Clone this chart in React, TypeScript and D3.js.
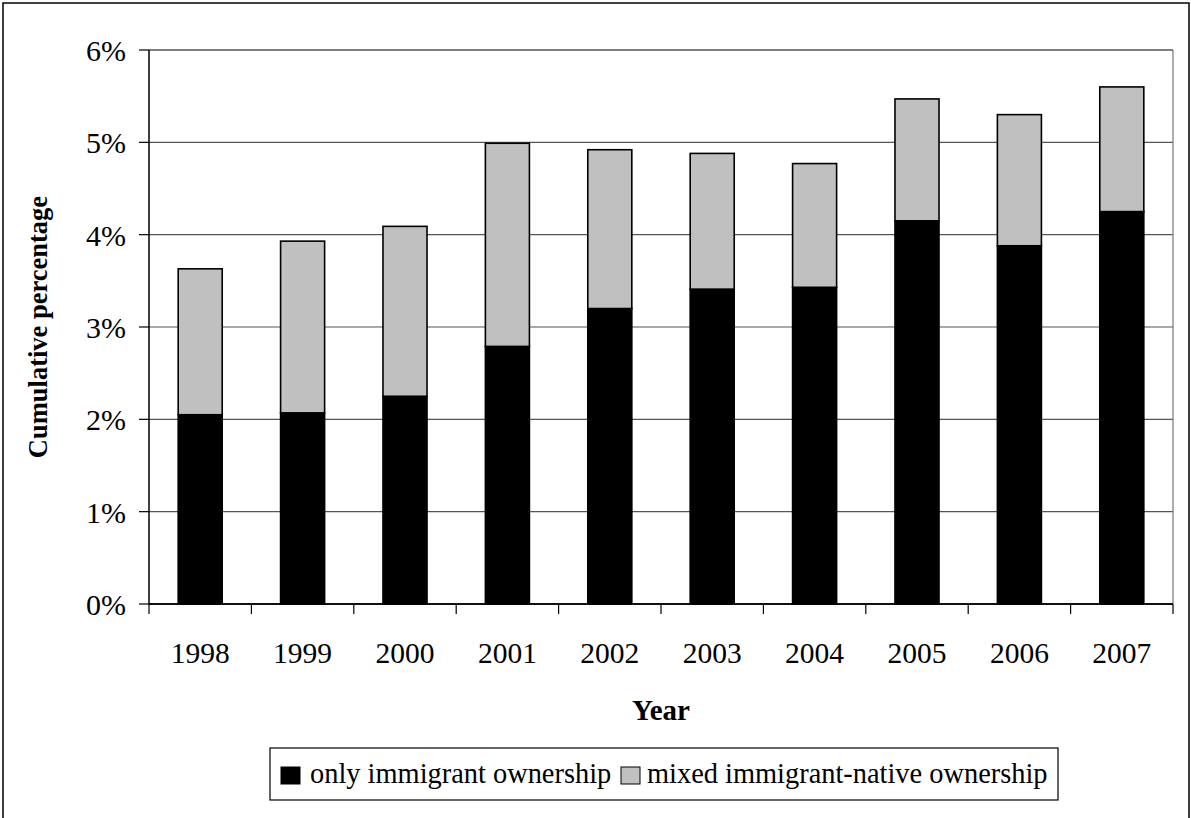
import * as d3 from "d3";

const years = ["1998", "1999", "2000", "2001", "2002", "2003", "2004", "2005", "2006", "2007"];
// percent of firms
const onlyImmigrant = [2.05, 2.07, 2.25, 2.79, 3.2, 3.41, 3.43, 4.15, 3.88, 4.25];
const mixedOwnership = [1.58, 1.86, 1.84, 2.2, 1.72, 1.47, 1.34, 1.32, 1.42, 1.35];
const yTicks = [0, 1, 2, 3, 4, 5, 6];
const seriesNames = ["only immigrant ownership", "mixed immigrant-native ownership"];
const seriesColors = ["#000000", "#c0c0c0"];

const W = 1191;
const H = 818;
const font = "Liberation Serif, Tinos, Times New Roman, DejaVu Serif, serif";

export default function App() {
  const left = 149;
  const right = 1173;
  const top = 50;
  const bottom = 604;

  const x = d3
    .scaleBand<string>()
    .domain(years)
    .range([left, right])
    .paddingInner(0.57)
    .paddingOuter(0.285);
  const y = d3.scaleLinear().domain([0, 6]).range([bottom, top]);

  const rows = years.map((yr, i) => ({
    year: yr,
    only: onlyImmigrant[i],
    mixed: mixedOwnership[i],
  }));
  const stacked = d3.stack<(typeof rows)[number]>().keys(["only", "mixed"])(rows);

  const step = x.step();
  const boundaries = d3.range(years.length + 1).map((i) => left + i * step);

  // legend entries: swatch x, text x
  const legendItems = [
    { name: seriesNames[0], color: seriesColors[0], sx: 281, tx: 310 },
    { name: seriesNames[1], color: seriesColors[1], sx: 621, tx: 647 },
  ];

  return (
    <svg
      width={W}
      height={H}
      viewBox={`0 0 ${W} ${H}`}
      style={{ position: "absolute", left: 0, top: 0, background: "#fff", fontFamily: font }}
    >
      <rect x={0} y={0} width={W} height={H} fill="#fff" />
      {/* outer frame */}
      <rect x={3} y={3} width={1186} height={H + 10} fill="none" stroke="#000" strokeWidth={1.5} />

      {/* grid */}
      {yTicks.map((t) => (
        <line
          key={t}
          x1={left}
          x2={right}
          y1={y(t)}
          y2={y(t)}
          stroke={t === 0 || t === 6 ? "#000" : "#555"}
          strokeWidth={t === 0 ? 1.5 : 1.2}
        />
      ))}
      <line x1={right} x2={right} y1={top} y2={bottom} stroke="#777" strokeWidth={1.2} />

      {/* bars */}
      {stacked.map((s, si) => (
        <g key={s.key}>
          {s.map((d) => (
            <rect
              key={d.data.year}
              x={x(d.data.year)}
              y={y(d[1])}
              width={x.bandwidth()}
              height={y(d[0]) - y(d[1])}
              fill={seriesColors[si]}
              stroke="#000"
              strokeWidth={1.6}
            />
          ))}
        </g>
      ))}

      {/* axes */}
      <line x1={left} x2={left} y1={top} y2={bottom} stroke="#000" strokeWidth={1.5} />
      <line x1={left} x2={right} y1={bottom} y2={bottom} stroke="#000" strokeWidth={1.5} />
      {yTicks.map((t) => (
        <g key={t}>
          <line x1={left - 10} x2={left} y1={y(t)} y2={y(t)} stroke="#000" strokeWidth={1.2} />
          <text x={126} y={y(t) + 11} textAnchor="end" fontSize={30} style={{ fontFamily: font }}>
            {t}%
          </text>
        </g>
      ))}
      {boundaries.map((bx, i) => (
        <line key={i} x1={bx} x2={bx} y1={bottom} y2={bottom + 10} stroke="#000" strokeWidth={1.2} />
      ))}
      {years.map((yr) => (
        <text
          key={yr}
          x={(x(yr) ?? 0) + x.bandwidth() / 2}
          y={663}
          textAnchor="middle"
          fontSize={29.5}
          style={{ fontFamily: font }}
        >
          {yr}
        </text>
      ))}

      {/* axis titles */}
      <text
        x={(left + right) / 2}
        y={720}
        textAnchor="middle"
        fontSize={29}
        fontWeight="bold"
        style={{ fontFamily: font }}
      >
        Year
      </text>
      <text
        transform={`translate(47, ${(top + bottom) / 2}) rotate(-90)`}
        textAnchor="middle"
        fontSize={26.5}
        fontWeight="bold"
        style={{ fontFamily: font }}
      >
        Cumulative percentage
      </text>

      {/* legend */}
      <rect x={270} y={748} width={788} height={52} fill="#fff" stroke="#000" strokeWidth={1.2} />
      {legendItems.map((it) => (
        <g key={it.name}>
          <rect x={it.sx} y={767} width={19} height={17} fill={it.color} stroke="#000" strokeWidth={1} />
          <text x={it.tx} y={783} fontSize={28.4} style={{ fontFamily: font }}>
            {it.name}
          </text>
        </g>
      ))}
    </svg>
  );
}
